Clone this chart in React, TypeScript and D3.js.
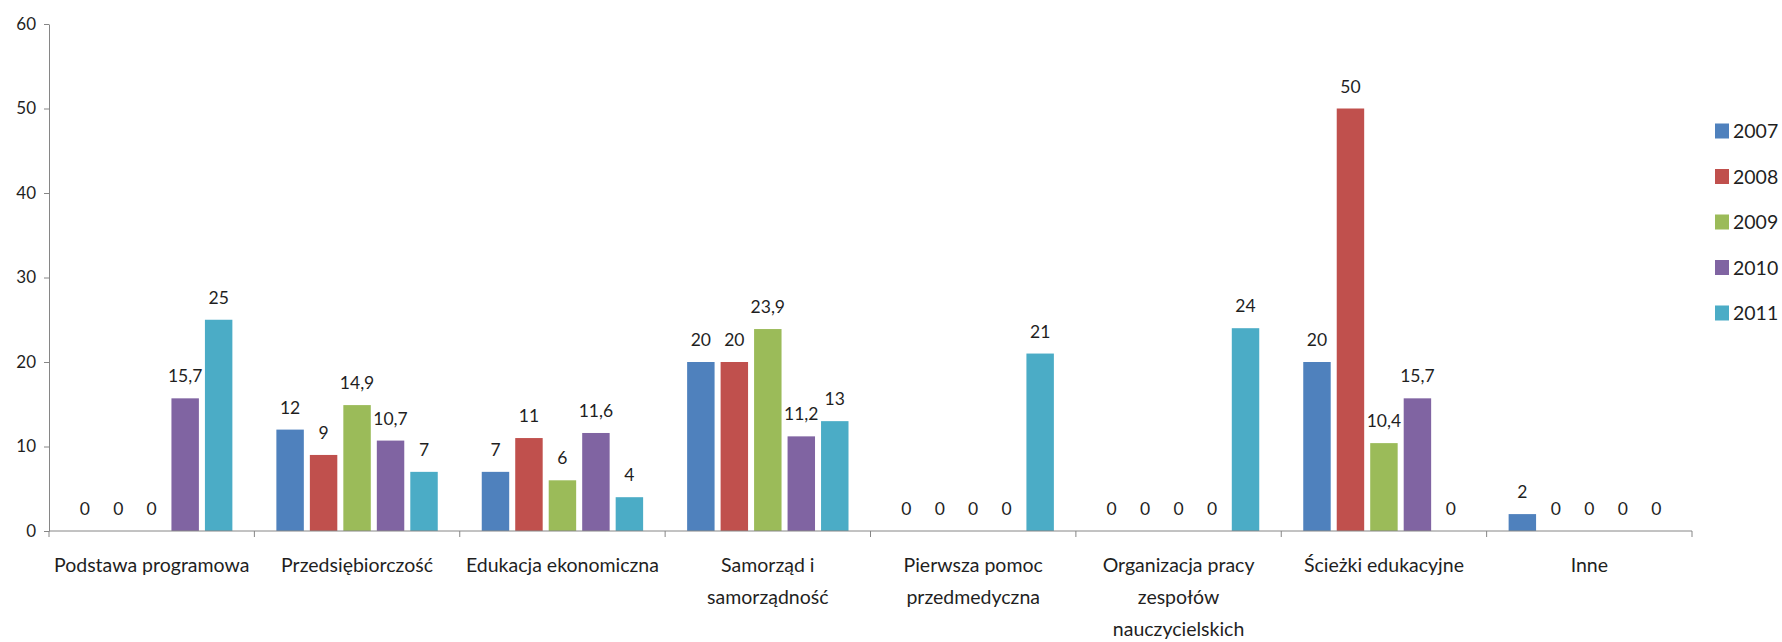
import React, { useRef, useEffect } from "react";
import * as d3 from "d3";

// categories (line breaks follow the wrapping in the picture)
const categories = [
    "Podstawa programowa",
    "Przedsiębiorczość",
    "Edukacja ekonomiczna",
    "Samorząd i\nsamorządność",
    "Pierwsza pomoc\nprzedmedyczna",
    "Organizacja pracy\nzespołów\nnauczycielskich",
    "Ścieżki edukacyjne",
    "Inne",
];

const years = ["2007", "2008", "2009", "2010", "2011"];

const v2007 = [0, 12, 7, 20, 0, 0, 20, 2];
const v2008 = [0, 9, 11, 20, 0, 0, 50, 0];
const v2009 = [0, 14.9, 6, 23.9, 0, 0, 10.4, 0];
const v2010 = [15.7, 10.7, 11.6, 11.2, 0, 0, 15.7, 0];
const v2011 = [25, 7, 4, 13, 21, 24, 0, 0];

const yTicks = [0, 10, 20, 30, 40, 50, 60];

const colors = ["#4F81BD", "#C0504D", "#9BBB59", "#8064A2", "#4BACC6"];

function App() {
    const svgRef = useRef(null);

    useEffect(() => {
        const w = 1782;
        const h = 642;
        const m = { left: 49, right: 90, top: 24, bottom: 111 };
        const font = "Lato, 'Open Sans', sans-serif";
        const ink = "#1f1f1f";
        const axisColor = "#868686";

        const svg = d3.select(svgRef.current)
            .attr("width", w)
            .attr("height", h)
            .style("font-family", font);
        svg.selectAll("*").remove();

        const series = [v2007, v2008, v2009, v2010, v2011];
        const rows = categories.map((c, i) => ({
            cat: c,
            vals: years.map((yr, j) => ({ year: yr, idx: j, value: series[j][i] })),
        }));

        const x0 = d3.scaleBand()
            .domain(categories)
            .range([m.left, w - m.right])
            .padding(0);

        const x1 = d3.scaleBand()
            .domain(years)
            .range([22, x0.bandwidth() - 22])
            .paddingInner(0.18);

        const y = d3.scaleLinear()
            .domain([0, 60])
            .range([h - m.bottom, m.top]);

        // y axis
        const yAxis = d3.axisLeft(y)
            .tickValues(yTicks)
            .tickSize(5)
            .tickSizeOuter(0)
            .tickPadding(8);
        const gy = svg.append("g")
            .attr("transform", `translate(${m.left},0)`)
            .call(yAxis);
        gy.select(".domain").attr("stroke", axisColor);
        gy.selectAll(".tick line").attr("stroke", axisColor);
        gy.selectAll(".tick text")
            .attr("fill", ink)
            .style("font-size", "17px")
            .style("font-family", font);

        // bars
        const groups = svg.append("g")
            .selectAll("g")
            .data(rows)
            .join("g")
            .attr("transform", d => `translate(${x0(d.cat)},0)`);

        groups.selectAll("rect")
            .data(d => d.vals)
            .join("rect")
            .attr("x", d => x1(d.year))
            .attr("y", d => y(d.value))
            .attr("width", x1.bandwidth())
            .attr("height", d => y(0) - y(d.value))
            .attr("fill", d => colors[d.idx]);

        // data labels
        groups.selectAll("text")
            .data(d => d.vals)
            .join("text")
            .attr("x", d => x1(d.year) + x1.bandwidth() / 2)
            .attr("y", d => y(d.value) - 16)
            .attr("text-anchor", "middle")
            .attr("fill", ink)
            .style("font-size", "17.5px")
            .text(d => String(d.value).replace(".", ","));

        // x axis
        const gx = svg.append("g");
        gx.append("line")
            .attr("x1", m.left)
            .attr("x2", w - m.right)
            .attr("y1", y(0))
            .attr("y2", y(0))
            .attr("stroke", axisColor);
        const bounds = categories.map(c => x0(c)).concat([w - m.right]);
        gx.selectAll(".xt")
            .data(bounds)
            .join("line")
            .attr("class", "xt")
            .attr("x1", d => d)
            .attr("x2", d => d)
            .attr("y1", y(0))
            .attr("y2", y(0) + 6)
            .attr("stroke", axisColor);

        const labels = gx.selectAll(".xl")
            .data(categories)
            .join("text")
            .attr("class", "xl")
            .attr("x", d => x0(d) + x0.bandwidth() / 2)
            .attr("y", y(0) + 41)
            .attr("text-anchor", "middle")
            .attr("fill", ink)
            .style("font-size", "19.5px");
        labels.selectAll("tspan")
            .data(d => d.split("\n"))
            .join("tspan")
            .attr("x", function () {
                return d3.select(this.parentNode).attr("x");
            })
            .attr("dy", (d, i) => (i === 0 ? 0 : 32))
            .text(d => d);

        // legend
        const legend = svg.append("g")
            .selectAll("g")
            .data(years)
            .join("g")
            .attr("transform", (d, i) => `translate(1715,${131 + i * 45.5})`);
        legend.append("rect")
            .attr("x", 0)
            .attr("y", -7.5)
            .attr("width", 14)
            .attr("height", 15)
            .attr("fill", (d, i) => colors[i]);
        legend.append("text")
            .attr("x", 18)
            .attr("y", 0)
            .attr("dy", "0.36em")
            .attr("fill", ink)
            .style("font-size", "19.5px")
            .text(d => d);
    }, []);

    return (
        <div style={{ position: "absolute", left: 0, top: 0, background: "#fff" }}>
            <svg ref={svgRef}></svg>
        </div>
    );
}

export default App;
